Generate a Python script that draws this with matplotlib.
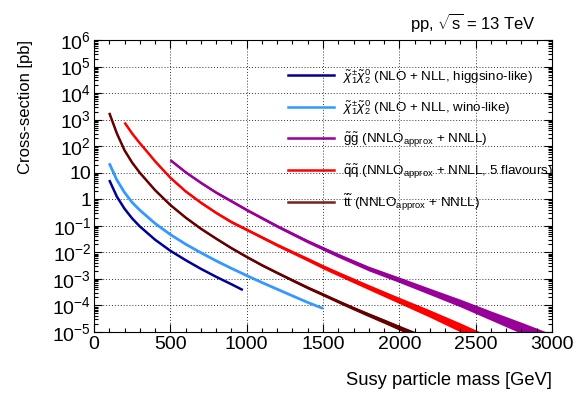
import matplotlib
matplotlib.use("Agg")
import matplotlib.pyplot as plt
from matplotlib.ticker import FuncFormatter, MultipleLocator, LogLocator, NullFormatter
import numpy as np

plt.rcParams["font.family"] = ["Liberation Sans", "DejaVu Sans"]
plt.rcParams["mathtext.fontset"] = "custom"
plt.rcParams["mathtext.rm"] = "Liberation Sans"
plt.rcParams["mathtext.it"] = "Liberation Sans:italic"
plt.rcParams["mathtext.bf"] = "Liberation Sans:bold"

# chargino-neutralino, higgsino-like (NLO+NLL)
higgsino_mass = [100, 150, 200, 250, 300, 400, 500, 600, 700, 800, 900, 975]
higgsino_xsec = [5.3, 1.25, 0.44, 0.19, 0.095, 0.030, 0.0115, 0.0051, 0.0024, 0.0012, 0.00063, 0.00038]

# chargino-neutralino, wino-like (NLO+NLL)
wino_mass = [100, 150, 200, 250, 300, 400, 500, 600, 700, 800, 900, 1000, 1100, 1200, 1300, 1400, 1500]
wino_xsec = [22.7, 5.3, 1.8, 0.76, 0.39, 0.123, 0.047, 0.0204, 0.0097, 0.0048, 0.0025, 0.00134,
             0.00073, 0.00041, 0.00023, 0.00013, 0.000077]

# gluino pair (NNLOapprox+NNLL)
gluino_mass = [500, 600, 700, 800, 900, 1000, 1200, 1400, 1600, 1800, 2000, 2200, 2400, 2600, 2800, 3000]
gluino_xsec = [30, 10.5, 4.2, 1.8, 0.85, 0.40, 0.097, 0.026, 0.0078, 0.0025, 0.00095, 0.00035,
               0.00013, 0.000045, 0.000016, 0.0000055]
gluino_unc = [0.09, 0.09, 0.10, 0.10, 0.10, 0.11, 0.12, 0.14, 0.17, 0.20, 0.23, 0.27, 0.32, 0.38, 0.45, 0.52]

# squark-antisquark, 5 flavours (NNLOapprox+NNLL)
squark_mass = [200, 250, 300, 350, 400, 500, 600, 700, 800, 900, 1000, 1100, 1200, 1300, 1400, 1500,
               1600, 1800, 2000, 2200, 2400, 2600]
squark_xsec = [780, 300, 130, 60, 27, 6.5, 2.0, 0.75, 0.31, 0.14, 0.072, 0.037, 0.019, 0.0102, 0.0055,
               0.0029, 0.0016, 0.0005, 0.00016, 0.000052, 0.000016, 0.0000046]
squark_unc = [0.08, 0.08, 0.08, 0.08, 0.08, 0.09, 0.09, 0.10, 0.10, 0.11, 0.11, 0.12, 0.13, 0.14, 0.16,
              0.18, 0.19, 0.22, 0.26, 0.31, 0.37, 0.43]

# stop pair (NNLOapprox+NNLL)
stop_mass = [100, 150, 200, 250, 300, 400, 500, 600, 700, 800, 900, 1000, 1100, 1200, 1300, 1400, 1500,
             1600, 1700, 1800, 1900, 2000, 2100, 2200]
stop_xsec = [1800, 300, 70, 24, 10, 2.2, 0.61, 0.205, 0.078, 0.033, 0.0145, 0.0068, 0.0033, 0.0017,
             0.00089, 0.00047, 0.00026, 0.000142, 0.000079, 0.000045, 0.000026, 0.0000148, 0.0000086, 0.000005]
stop_unc = [0.07, 0.07, 0.07, 0.07, 0.07, 0.07, 0.07, 0.08, 0.08, 0.08, 0.09, 0.09, 0.10, 0.10, 0.11,
            0.12, 0.13, 0.14, 0.15, 0.17, 0.19, 0.21, 0.23, 0.25]

labels = [
    r"$\tilde{\chi}_1^{\pm}\tilde{\chi}_2^{0}$ (NLO + NLL, higgsino-like)",
    r"$\tilde{\chi}_1^{\pm}\tilde{\chi}_2^{0}$ (NLO + NLL, wino-like)",
    r"$\tilde{\mathrm{g}}\tilde{\mathrm{g}}$ (NNLO$_{\mathrm{approx}}$ + NNLL)",
    r"$\tilde{\mathrm{q}}\tilde{\mathrm{q}}$ (NNLO$_{\mathrm{approx}}$ + NNLL, 5 flavours)",
    r"$\tilde{\mathrm{t}}\tilde{\mathrm{t}}$ (NNLO$_{\mathrm{approx}}$ + NNLL)",
]
colors = ["#000099", "#3399ff", "#990099", "#ff0000", "#660000"]
legend_colors = ["#000099", "#3399ff", "#990099", "#ff0000", "#7a2020"]

fig = plt.figure(figsize=(5.81, 3.96), dpi=100)
ax = fig.add_axes([94 / 581, 64 / 396, 458 / 581, 292 / 396])

ax.plot(higgsino_mass, higgsino_xsec, color=colors[0], lw=1.8, solid_capstyle="butt")
ax.plot(wino_mass, wino_xsec, color=colors[1], lw=2.0, solid_capstyle="butt")

for m, xs, unc, c in [(gluino_mass, gluino_xsec, gluino_unc, colors[2]),
                      (squark_mass, squark_xsec, squark_unc, colors[3]),
                      (stop_mass, stop_xsec, stop_unc, colors[4])]:
    m = np.array(m)
    xs = np.array(xs)
    unc = np.array(unc)
    ax.fill_between(m, xs * (1 - unc), xs * (1 + unc), color=c, lw=0)
    ax.plot(m, xs, color=c, lw=1.8, solid_capstyle="butt")

ax.set_yscale("log")
ax.set_xlim(0, 3000)
ax.set_ylim(1e-5, 1e6)

ax.xaxis.set_major_locator(MultipleLocator(500))
ax.xaxis.set_minor_locator(MultipleLocator(100))
ax.yaxis.set_major_locator(LogLocator(base=10, numticks=20))
ax.yaxis.set_minor_locator(LogLocator(base=10, subs=np.arange(2, 10), numticks=20))
ax.yaxis.set_minor_formatter(NullFormatter())


def ylab(v, pos):
    e = int(round(np.log10(v)))
    if e == 0:
        return "1"
    if e == 1:
        return "10"
    return r"$10^{%d}$" % e


ax.yaxis.set_major_formatter(FuncFormatter(ylab))
ax.tick_params(which="both", direction="in", top=True, right=True, labelsize=14)
ax.tick_params(which="major", length=6, width=0.8)
ax.tick_params(which="minor", length=3, width=0.8)
ax.tick_params(axis="x", pad=3)
ax.tick_params(axis="y", pad=2)
ax.grid(True, which="major", ls=(0, (1, 2)), color="black", lw=0.7, alpha=0.8)

ax.set_xlabel("Susy particle mass [GeV]", fontsize=13.2, loc="right")
ax.set_ylabel("Cross-section [pb]", fontsize=12, loc="top")
ax.xaxis.set_label_coords(1.0, -40 / 292)
ax.yaxis.set_label_coords(-61 / 458, 1.0)

fig.text(536 / 581, 1 - 22 / 396, r"pp, $\sqrt{\mathrm{s}}$ = 13 TeV", fontsize=12, ha="right", va="center")

# legend drawn by hand
rows = [75, 106.7, 138.3, 170, 201.7]
for py, lab, c in zip(rows, labels, legend_colors):
    yf = (332 - py) / 292
    ax.plot([(288 - 94) / 458, (334 - 94) / 458], [yf, yf], color=c, lw=1.8, transform=ax.transAxes)
    ax.text((343 - 94) / 458, (332 - py - 5) / 292, lab, transform=ax.transAxes,
            fontsize=9.6, ha="left", va="baseline")

fig.savefig("out.png", dpi=100)
